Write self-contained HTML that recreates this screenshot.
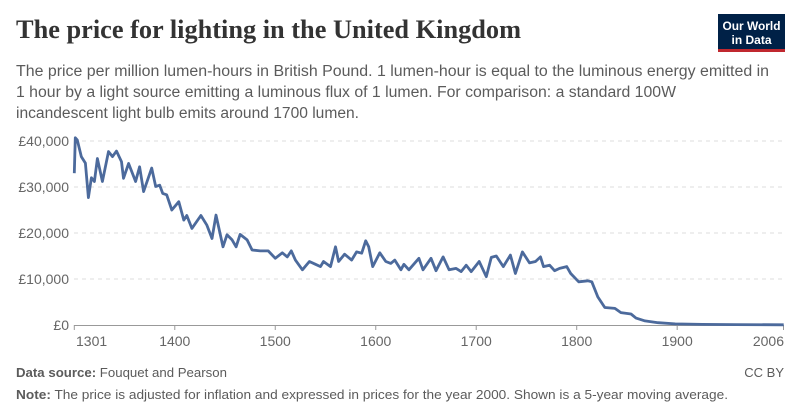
<!DOCTYPE html>
<html><head><meta charset="utf-8"><style>
html,body{margin:0;padding:0;background:#fff;}
svg{display:block;font-family:"Liberation Sans",sans-serif;}
</style></head><body>
<svg id="chart" width="800" height="418" viewBox="0 0 800 418" xmlns="http://www.w3.org/2000/svg">
<text x="16" y="38" font-family="Liberation Serif, serif" font-weight="bold" font-size="26" fill="#333" textLength="505" lengthAdjust="spacingAndGlyphs">The price for lighting in the United Kingdom</text>
<g>
<rect x="718" y="14" width="67" height="35" fill="#002147"/>
<rect x="718" y="49" width="67" height="3" fill="#c0282f"/>
<text x="751.5" y="30" font-size="12" font-weight="bold" fill="#fff" text-anchor="middle" textLength="58" lengthAdjust="spacingAndGlyphs">Our World</text>
<text x="751.5" y="44" font-size="12" font-weight="bold" fill="#fff" text-anchor="middle">in Data</text>
</g>
<g font-size="15.5" fill="#5b5b5b">
<text x="16" y="76" textLength="753" lengthAdjust="spacingAndGlyphs">The price per million lumen-hours in British Pound. 1 lumen-hour is equal to the luminous energy emitted in</text>
<text x="16" y="97" textLength="660" lengthAdjust="spacingAndGlyphs">1 hour by a light source emitting a luminous flux of 1 lumen. For comparison: a standard 100W</text>
<text x="16" y="118" textLength="343" lengthAdjust="spacingAndGlyphs">incandescent light bulb emits around 1700 lumen.</text>
</g>
<g id="grid"></g>
<g id="yticks"></g>
<g id="xticks"></g>
<path id="line" fill="none" stroke="#4c6a9c" stroke-width="2.8" stroke-linejoin="round"/>
<text x="16" y="377" font-size="13" fill="#5b5b5b" textLength="211" lengthAdjust="spacingAndGlyphs"><tspan font-weight="bold">Data source:</tspan> Fouquet and Pearson</text>
<text x="784" y="377" font-size="13" fill="#5b5b5b" text-anchor="end">CC BY</text>
<text x="16" y="399" font-size="13" fill="#5b5b5b" textLength="712" lengthAdjust="spacingAndGlyphs"><tspan font-weight="bold">Note:</tspan> The price is adjusted for inflation and expressed in prices for the year 2000. Shown is a 5-year moving average.</text>
</svg>
<script>
const years=[1300,1301,1303,1307,1311,1314,1317,1320,1323,1328,1334,1338,1342,1347,1349,1354,1361,1365,1369,1377,1381,1385,1388,1392,1397,1404,1409,1412,1417,1426,1432,1437,1441,1448,1452,1457,1461,1465,1472,1477,1485,1493,1500,1507,1512,1516,1520,1527,1534,1540,1545,1548,1555,1560,1563,1569,1576,1581,1586,1590,1593,1597,1604,1610,1615,1619,1625,1628,1633,1643,1647,1655,1660,1667,1673,1680,1685,1690,1695,1703,1710,1715,1720,1727,1734,1739,1746,1753,1759,1764,1767,1773,1778,1783,1790,1794,1802,1811,1815,1821,1828,1838,1844,1854,1859,1868,1881,1898,1925,1958,2006];
const prices=[33000,40700,40200,36600,35200,27700,32000,31200,36200,31200,37700,36600,37800,35500,31900,35100,31200,34400,29000,34100,30100,30400,28600,28300,25000,26800,22800,23800,21000,23800,21700,18800,23900,17000,19600,18500,17000,19700,18500,16300,16100,16100,14500,15700,14800,16100,14100,12000,13800,13200,12700,13800,12700,17000,13800,15400,14100,15900,15600,18300,17000,12700,15700,13800,13400,14100,12000,13200,12000,14500,12000,14500,11800,14800,12000,12300,11600,13000,11600,13800,10500,14700,15000,12700,15200,11200,15900,13500,13800,14800,12700,13000,11800,12300,12700,11200,9400,9600,9400,6100,3800,3600,2700,2400,1500,900,500,250,120,80,50];
const yTicks=[0,10000,20000,30000,40000];
const yLabels=["£0","£10,000","£20,000","£30,000","£40,000"];
const xTicks=[1301,1400,1500,1600,1700,1800,1900,2006];
const xLabels=["1301","1400","1500","1600","1700","1800","1900","2006"];
const NS="http://www.w3.org/2000/svg";
const X=y=>74.3+(y-1300)*1.0048;
const Y=v=>325-v*0.0046;
function mk(t,a,p){const e=document.createElementNS(NS,t);for(const k in a)e.setAttribute(k,a[k]);p.appendChild(e);return e;}
const grid=document.getElementById('grid'),yt=document.getElementById('yticks'),xt=document.getElementById('xticks');
yTicks.forEach((v,i)=>{
  if(v>0){const l=mk('line',{x1:74,x2:784,y1:Y(v),y2:Y(v),stroke:'#ddd','stroke-dasharray':'4 4'},grid);
  
  }
  const t=mk('text',{x:69,y:Y(v)+5,'text-anchor':'end','font-size':14,fill:'#666'},yt);
  t.textContent=yLabels[i];
  
  
});
const ax=mk('line',{x1:74,x2:784,y1:325.5,y2:325.5,stroke:'#999'},xt);


xTicks.forEach((yr,i)=>{
  const x=(i==0)?74.3:(i==xTicks.length-1?783.5:X(yr));
  mk('line',{x1:x,x2:x,y1:325,y2:330,stroke:'#999'},xt);
  const anchor=i==0?'start':(i==xTicks.length-1?'end':'middle');
  const t=mk('text',{x:i==0?76:(i==xTicks.length-1?784:x),y:346,'text-anchor':anchor,'font-size':14,fill:'#666'},xt);
  t.textContent=xLabels[i];
  
  
});
document.getElementById('line').setAttribute('d',years.map((y,i)=>(i?'L':'M')+X(y).toFixed(1)+','+Y(prices[i]).toFixed(1)).join(''));
</script>
</body></html>
